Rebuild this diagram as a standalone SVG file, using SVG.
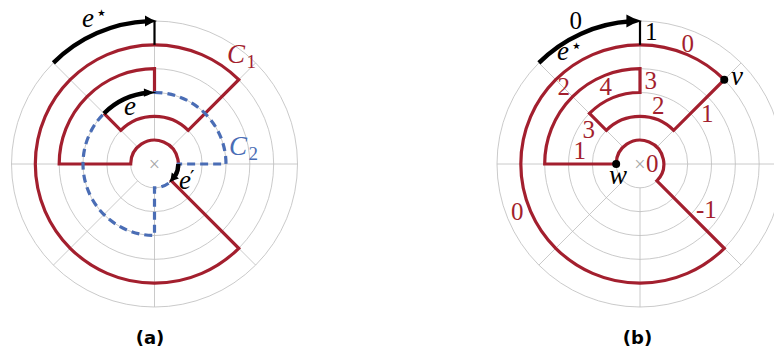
<svg xmlns="http://www.w3.org/2000/svg" xmlns:xlink="http://www.w3.org/1999/xlink" width="774" height="356" viewBox="0 0 774 356">
<style>
.grid{fill:none;stroke:#bdbdbd;stroke-width:0.8}
.red{fill:none;stroke:#a31f2e;stroke-width:3.2;stroke-linejoin:miter;stroke-miterlimit:10}
.blue{fill:none;stroke:#4a6db5;stroke-width:3.2;stroke-dasharray:8 5}
.blk{fill:none;stroke:#000;stroke-width:4.4}
.thin{fill:none;stroke:#000;stroke-width:2.2}
.m{font-family:"Liberation Serif","DejaVu Serif",serif;font-style:italic;font-size:27px}
.n{font-family:"Liberation Serif","DejaVu Serif",serif;font-size:25px}
.r{fill:#a31f2e}
.b{fill:#4a6db5}
.k{fill:#000}
.x{font-family:"Liberation Serif","DejaVu Serif",serif;font-size:20px;fill:#a8a8a8;text-anchor:middle}
.star{font-family:"DejaVu Sans",sans-serif;font-style:normal;font-size:19px}
.prime{font-family:"DejaVu Sans",sans-serif;font-style:normal;font-size:20px}
.sub{font-style:normal;font-size:19px}
.cap{font-family:"DejaVu Sans",sans-serif;font-weight:bold;font-size:18px;text-anchor:middle;fill:#000}
</style>
<defs>
<g id="gridg" class="grid">
<circle r="23.83"/><circle r="47.67"/><circle r="71.5"/><circle r="95.33"/><circle r="119.17"/><circle r="143"/>
<path d="M23.83,0H143M-23.83,0H-143M0,23.83V143M0,-23.83V-143M16.85,16.85L101.12,101.12M-16.85,-16.85L-101.12,-101.12M16.85,-16.85L101.12,-101.12M-16.85,16.85L-101.12,101.12"/>
</g>
<path id="ah" d="M0,0 Q-6,-1.6 -12,-5.5 L-12,5.5 Q-6,1.6 0,0 Z" fill="#000"/>
</defs>

<g id="diagram-a" transform="translate(154.5,164)">
  <use xlink:href="#gridg"/>
  <text class="x" x="0" y="6.5">×</text>
  <g id="connectors-a">
    <path id="C1" class="red" d="M-50.56,-50.56 L-33.71,-33.71 A47.67,47.67 0 0 1 33.71,-33.71 L84.26,-84.26 A119.17,119.17 0 1 0 84.26,84.26 L16.85,16.85 A23.83,23.83 0 1 0 -23.83,0 L-95.33,0 A95.33,95.33 0 0 1 0,-95.33 L0,-71.5"/>
    <path id="C2" class="blue" d="M0,-71.5 A71.5,71.5 0 0 1 71.5,0 L23.83,0 A23.83,23.83 0 0 1 0,23.83 L0,71.5 A71.5,71.5 0 0 1 -71.5,0 A71.5,71.5 0 0 1 0,-71.5"/>
    <g id="edge-estar-a">
      <path class="blk" d="M-101.12,-101.12 A143,143 0 0 1 -6,-142.87"/>
      <use xlink:href="#ah" transform="translate(2.5,-143)"/>
      <path class="thin" d="M0,-143 V-119.17"/>
    </g>
    <g id="edge-e">
      <path class="blk" d="M-50.56,-50.56 A71.5,71.5 0 0 1 -6,-71.25"/>
      <use xlink:href="#ah" transform="translate(2,-71.5) scale(1.05,0.75)"/>
    </g>
    <g id="edge-eprime">
      <path class="blk" d="M23.83,0 A23.83,23.83 0 0 1 20.64,11.92"/>
      <use xlink:href="#ah" transform="translate(14.67,18.78) rotate(130) scale(0.8,0.85)"/>
    </g>
  </g>
</g>
<g id="labels-a">
  <text class="m k" x="82" y="27">e<tspan class="star" x="95.5" y="19">⋆</tspan></text>
  <text class="m k" x="124" y="115">e</text>
  <text class="m k" x="179" y="188.5">e<tspan class="prime" x="190" y="184">′</tspan></text>
  <text class="m r" x="227" y="63">C<tspan class="sub" x="246.5" y="68">1</tspan></text>
  <text class="m b" x="229" y="155">C<tspan class="sub" x="248.5" y="160">2</tspan></text>
</g>

<g id="diagram-b" transform="translate(640,164)">
  <use xlink:href="#gridg"/>
  <text class="x" x="0" y="6.5">×</text>
  <g id="connectors-b">
    <path id="cycle-b" class="red" d="M-50.56,-50.56 L-33.71,-33.71 A47.67,47.67 0 0 1 33.71,-33.71 L84.26,-84.26 A119.17,119.17 0 1 0 84.26,84.26 L16.85,16.85 A23.83,23.83 0 1 0 -23.83,0 L-95.33,0 A95.33,95.33 0 0 1 0,-95.33 L0,-71.5 A71.5,71.5 0 0 0 -50.56,-50.56 Z"/>
    <g id="edge-estar-b">
      <path class="blk" d="M-101.12,-101.12 A143,143 0 0 1 -9,-142.72"/>
      <use xlink:href="#ah" transform="translate(2,-143) scale(1.3,1.2)"/>
      <path class="thin" d="M0,-143 V-119.17"/>
    </g>
  </g>
  <g id="node-v"><circle cx="84.26" cy="-84.26" r="4" fill="#000"/></g>
  <g id="node-w"><circle cx="-23.83" cy="0" r="4" fill="#000"/></g>
</g>
<g id="labels-b">
  <text class="n k" x="569.5" y="28.5">0</text>
  <text class="m k" x="557" y="60">e<tspan class="star" x="570.5" y="52">⋆</tspan></text>
  <text class="n k" x="645" y="39.5">1</text>
  <text class="n r" x="681.5" y="52">0</text>
  <text class="m k" x="731" y="85">v</text>
  <text class="n r" x="557.5" y="95">2</text>
  <text class="n r" x="599.5" y="95">4</text>
  <text class="n r" x="644.5" y="88.5">3</text>
  <text class="n r" x="652" y="114">2</text>
  <text class="n r" x="701" y="122">1</text>
  <text class="n r" x="582.5" y="137.5">3</text>
  <text class="n r" x="573.5" y="159">1</text>
  <text class="m k" x="609" y="183.5">w</text>
  <text class="n r" x="646" y="172">0</text>
  <text class="n r" x="696" y="218">-1</text>
  <text class="n r" x="511" y="220">0</text>
</g>

<text class="cap" x="150" y="344">(a)</text>
<text class="cap" x="637.5" y="344">(b)</text>
</svg>
